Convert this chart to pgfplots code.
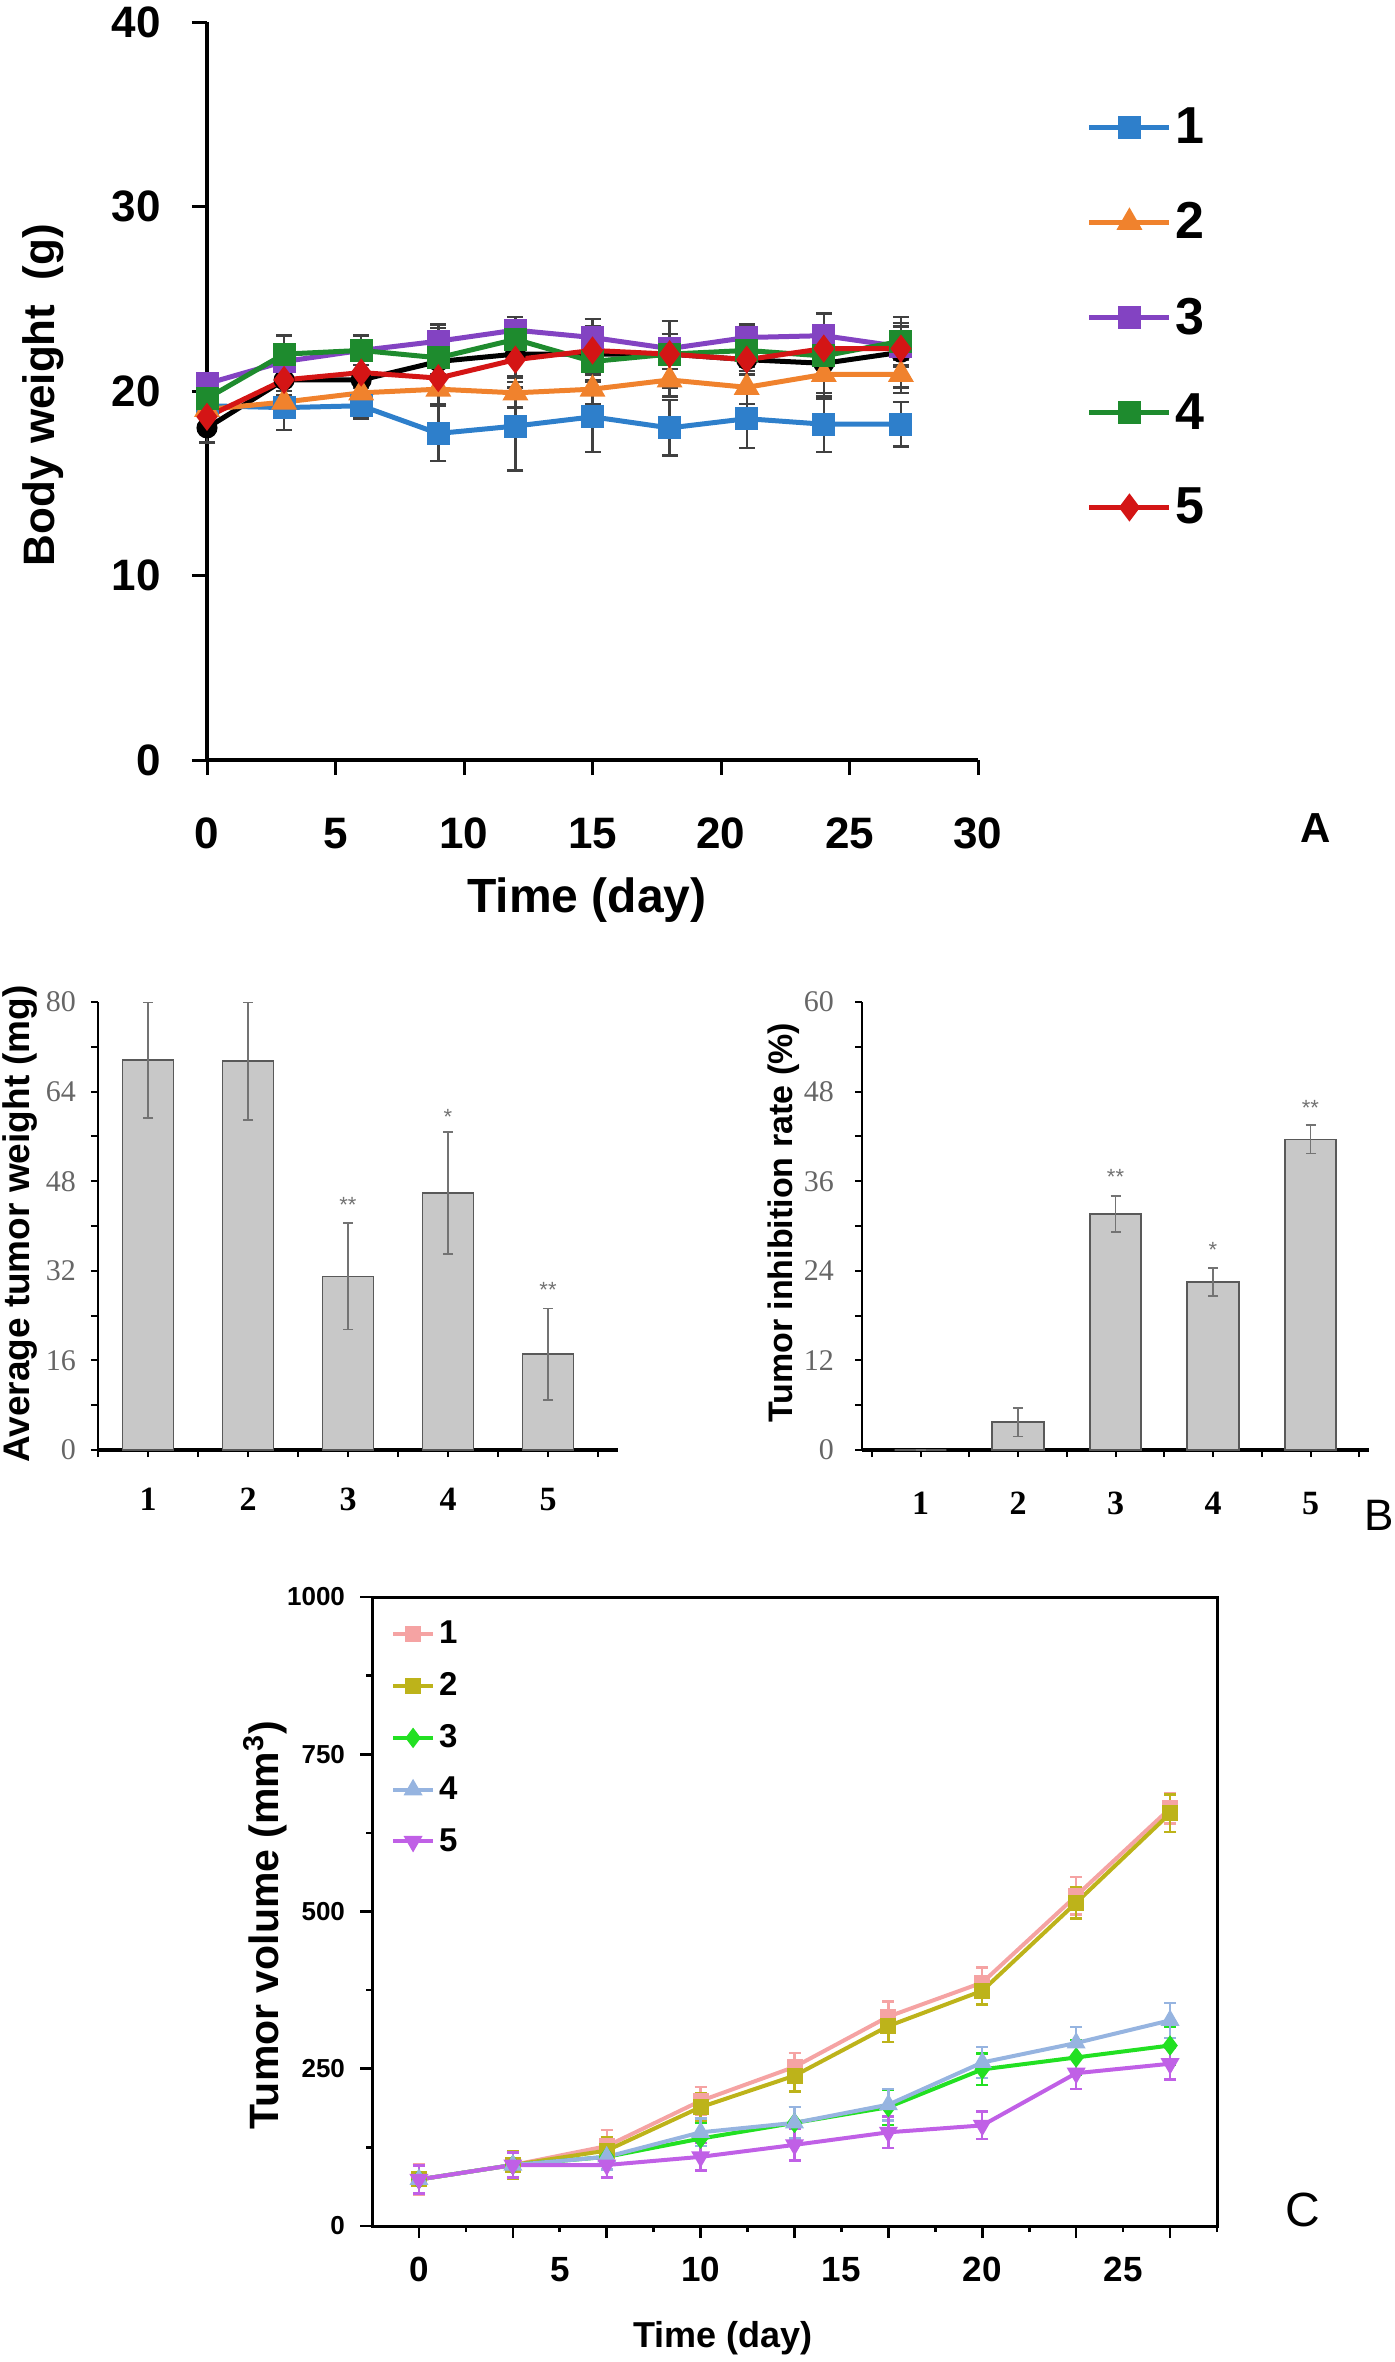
\documentclass[border=0pt]{standalone}
\usepackage{fontspec}
\setmainfont{Liberation Sans}
\newfontfamily\serif{Liberation Serif}
\usepackage{pgfplots}
\pgfplotsset{compat=1.18}
\definecolor{a1}{HTML}{2E7FCB}
\definecolor{a2}{HTML}{F0822D}
\definecolor{a3}{HTML}{8343C2}
\definecolor{a4}{HTML}{1E8B2E}
\definecolor{a5}{HTML}{D41515}
\definecolor{barfill}{HTML}{C8C8C8}
\definecolor{c1}{HTML}{F5A3A3}
\definecolor{c2}{HTML}{BDB31A}
\definecolor{c3}{HTML}{22E022}
\definecolor{c4}{HTML}{96B4E0}
\definecolor{c5}{HTML}{C060E6}
\pgfplotsset{/pgf/number format/assume math mode=true,/pgf/number format/1000 sep={}}
\newcommand\fs[1]{\fontsize{#1}{#1}\selectfont}
\begin{document}
\begin{tikzpicture}
\path[use as bounding box] (0,0) rectangle (697pt,-1181pt);
% ---------------- Panel A ----------------
\begin{axis}[at={(103.5pt,-380pt)}, anchor=south west, scale only axis,
  width=385.5pt, height=369pt, xmin=0, xmax=30, ymin=0, ymax=40,
  axis x line*=bottom, axis y line*=left, axis line style={line width=2pt,-},
  xtick={0,5,...,30}, ytick={0,10,...,40}, tick align=outside,
  major tick length=7.5pt, tick style={line width=1.5pt,black},
  ticklabel style={font=\bfseries\fs{22}},
  xticklabel style={yshift=-18pt}, yticklabel style={xshift=-12pt},
  clip=false,
  legend style={at={(1.133,0.895)}, anchor=north west, draw=none, fill=none,
    font=\bfseries\fs{26}, row sep=24pt, /tikz/every even column/.append style={column sep=17pt}},
  legend cell align=left,
  legend image code/.code={\draw[mark repeat=2,mark phase=2,#1] plot coordinates {(0pt,0pt)(20pt,0pt)(40pt,0pt)};},
  every axis plot/.append style={line width=2.5pt},
  error bars/error bar style={line width=1.2pt,black!75},
  error bars/error mark options={line width=1.2pt,black!75,mark size=4pt,rotate=90},
]
\addplot[black, mark=*, mark size=4pt, forget plot, error bars/.cd, y dir=both, y explicit]
 table[x=x,y=y,y error=e]{
x y e
0 18.0 0.8
3 20.6 0.9
6 20.6 0.8
9 21.6 1.8
12 22.0 1.8
15 22.0 1.5
18 22.0 1.8
21 21.7 1.8
24 21.5 1.9
27 22.1 1.9
};
\addplot[a1, mark=square*, mark size=4.5pt, error bars/.cd, y dir=both, y explicit]
 table[x=x,y=y,y error=e]{
x y e
0 19.2 0.6
3 19.1 1.2
6 19.2 0.7
9 17.7 1.5
12 18.1 2.4
15 18.6 1.9
18 18.0 1.5
21 18.5 1.6
24 18.2 1.5
27 18.2 1.2
};
\addlegendentry{1}
\addplot[a2, mark=triangle*, mark size=5pt, error bars/.cd, y dir=both, y explicit]
 table[x=x,y=y,y error=e]{
x y e
0 19.0 0.5
3 19.4 0.6
6 19.9 0.6
9 20.1 0.8
12 19.9 0.8
15 20.1 0.8
18 20.6 0.9
21 20.2 0.9
24 20.9 1.0
27 20.9 1.0
};
\addlegendentry{2}
\addplot[a3, mark=square*, mark size=4.5pt, error bars/.cd, y dir=both, y explicit]
 table[x=x,y=y,y error=e]{
x y e
0 20.4 0.5
3 21.6 0.9
6 22.2 0.8
9 22.7 0.9
12 23.3 0.7
15 22.9 1.0
18 22.3 0.8
21 22.9 0.7
24 23.0 1.2
27 22.4 1.1
};
\addlegendentry{3}
\addplot[a4, mark=square*, mark size=4.5pt, error bars/.cd, y dir=both, y explicit]
 table[x=x,y=y,y error=e]{
x y e
0 19.6 0.5
3 22.0 1.0
6 22.2 0.8
9 21.8 1.0
12 22.8 1.0
15 21.6 1.0
18 22.0 0.8
21 22.2 0.9
24 21.9 1.0
27 22.7 1.0
};
\addlegendentry{4}
\addplot[a5, mark=diamond*, mark size=5pt, error bars/.cd, y dir=both, y explicit]
 table[x=x,y=y,y error=e]{
x y e
0 18.6 0.5
3 20.6 0.8
6 21.0 0.8
9 20.7 0.9
12 21.7 0.9
15 22.2 0.9
18 22.0 0.8
21 21.7 0.8
24 22.3 0.9
27 22.3 0.9
};
\addlegendentry{5}
\end{axis}
\node[rotate=90,font=\bfseries\fs{22}] at (21.5pt,-197.5pt) {Body weight\ \ (g)};
\node[font=\bfseries\fs{24}] at (293.5pt,-450pt) {Time (day)};
\node[font=\bfseries\fs{21}] at (658pt,-414pt) {A};
% ---------------- Panel B left ----------------
\begin{axis}[at={(49pt,-725pt)}, anchor=south west, scale only axis,
  width=260pt, height=224pt, xmin=0.5, xmax=5.7, ymin=0, ymax=80,
  axis x line*=bottom, axis y line*=left,
  x axis line style={line width=2pt,-}, y axis line style={line width=1.2pt,-},
  xtick={1,...,5}, minor xtick={0.5,1.5,...,5.5}, ytick={0,16,...,80}, minor ytick={8,24,...,72},
  tick align=outside, major tick length=3.5pt, minor tick length=3.5pt,
  tick style={line width=1pt,black},
  yticklabel style={font=\serif\fs{15}, text=black!60, xshift=-4pt},
  xticklabel style={font=\serif\bfseries\fs{17}, yshift=-12pt},
  ybar, bar width=0.51, clip=false,
]
\addplot[fill=barfill, draw=black!65, line width=0.9pt,
  error bars/.cd, y dir=both, y explicit,
  error bar style={line width=0.8pt,black!55},
  error mark options={line width=0.8pt,black!55,mark size=2.5pt,rotate=90}]
 coordinates {(1,69.6) +- (0,10.3) (2,69.4) +- (0,10.5) (3,31.0) +- (0,9.5) (4,45.9) +- (0,10.9) (5,17.1) +- (0,8.2)};
\node[font=\fs{11}, text=black!55] at (axis cs:3,43.8) {**};
\node[font=\fs{11}, text=black!55] at (axis cs:4,59.5) {*};
\node[font=\fs{11}, text=black!55] at (axis cs:5,28.5) {**};
\end{axis}
\node[rotate=90,font=\bfseries\fs{18.5}] at (10pt,-612pt) {Average tumor weight (mg)};
% ---------------- Panel B right ----------------
\begin{axis}[at={(431pt,-725pt)}, anchor=south west, scale only axis,
  width=253.5pt, height=224pt, xmin=0.4, xmax=5.6, ymin=0, ymax=60,
  axis x line*=bottom, axis y line*=left,
  x axis line style={line width=2pt,-}, y axis line style={line width=1.2pt,-},
  xtick={1,...,5}, minor xtick={0.5,1.5,...,5.5}, ytick={0,12,...,60}, minor ytick={6,18,...,54},
  tick align=outside, major tick length=3.5pt, minor tick length=3.5pt,
  tick style={line width=1pt,black},
  yticklabel style={font=\serif\fs{15}, text=black!60, xshift=-7pt},
  xticklabel style={font=\serif\bfseries\fs{17}, yshift=-14pt},
  ybar, bar width=0.53, clip=false,
]
\addplot[fill=barfill, draw=black!65, line width=0.9pt,
  error bars/.cd, y dir=both, y explicit,
  error bar style={line width=0.8pt,black!55},
  error mark options={line width=0.8pt,black!55,mark size=2.5pt,rotate=90}]
 coordinates {(1,0) +- (0,0) (2,3.7) +- (0,1.9) (3,31.6) +- (0,2.4) (4,22.5) +- (0,1.9) (5,41.6) +- (0,1.9)};
\node[font=\fs{11}, text=black!55] at (axis cs:3,36.6) {**};
\node[font=\fs{11}, text=black!55] at (axis cs:4,26.8) {*};
\node[font=\fs{11}, text=black!55] at (axis cs:5,45.8) {**};
\end{axis}
\node[rotate=90,font=\bfseries\fs{17}] at (392pt,-611.5pt) {Tumor inhibition rate (\%)};
\node[font=\fs{22}, anchor=east, inner sep=0pt] at (697pt,-757.5pt) {B};
% ---------------- Panel C ----------------
\begin{axis}[at={(186pt,-1113pt)}, anchor=south west, scale only axis,
  width=422.5pt, height=314.5pt, xmin=-1.6667, xmax=28.3333, ymin=0, ymax=1000,
  axis line style={line width=1.5pt}, tick align=outside, xtick pos=bottom, ytick pos=left,
  xtick={0,3.3333,6.6667,10,13.3333,16.6667,20,23.3333,26.6667}, xticklabels={},
  minor xtick={1.6667,5,8.3333,11.6667,15,18.3333,21.6667,25,28.3333},
  extra x ticks={0,5,10,15,20,25}, extra x tick labels={0,5,10,15,20,25},
  extra x tick style={major tick length=0pt},
  ytick={0,250,...,1000}, minor ytick={125,375,625,875},
  major tick length=6pt, minor tick length=3pt, tick style={line width=1.3pt,black},
  xticklabel style={font=\bfseries\fs{17.5}, yshift=-12pt},
  yticklabel style={font=\bfseries\fs{13}, xshift=-4pt},
  legend style={at={(0.015,0.975)}, anchor=north west, draw=none, fill=none,
    font=\bfseries\fs{16.5}, row sep=9pt, /tikz/every even column/.append style={column sep=5pt}},
  legend cell align=left,
  legend image code/.code={\draw[mark repeat=2,mark phase=2,#1] plot coordinates {(0pt,0pt)(10pt,0pt)(20pt,0pt)};},
  every axis plot/.append style={line width=2pt},
]
\addplot[c1, mark=square*, mark size=3pt, error bars/.cd, y dir=both, y explicit,
  error bar style={line width=1.2pt}, error mark options={line width=1.2pt,mark size=3pt,rotate=90}]
 table[x=x,y=y,y error=e]{
x y e
0 74 24
3.3333 97 22
6.6667 127 26
10 199 22
13.3333 253 22
16.6667 333 24
20 387 24
23.3333 525 30
26.6667 664 24
};
\addlegendentry{1}
\addplot[c2, mark=square*, mark size=3pt, error bars/.cd, y dir=both, y explicit,
  error bar style={line width=1.2pt}, error mark options={line width=1.2pt,mark size=3pt,rotate=90}]
 table[x=x,y=y,y error=e]{
x y e
0 74 22
3.3333 97 22
6.6667 120 22
10 189 22
13.3333 239 25
16.6667 318 25
20 374 22
23.3333 514 25
26.6667 656 30
};
\addlegendentry{2}
\addplot[c3, mark=diamond*, mark size=3.5pt, error bars/.cd, y dir=both, y explicit,
  error bar style={line width=1.2pt}, error mark options={line width=1.2pt,mark size=3pt,rotate=90}]
 table[x=x,y=y,y error=e]{
x y e
0 74 22
3.3333 97 20
6.6667 110 20
10 139 25
13.3333 164 25
16.6667 189 28
20 249 25
23.3333 268 28
26.6667 287 30
};
\addlegendentry{3}
\addplot[c4, mark=triangle*, mark size=3.5pt, error bars/.cd, y dir=both, y explicit,
  error bar style={line width=1.2pt}, error mark options={line width=1.2pt,mark size=3pt,rotate=90}]
 table[x=x,y=y,y error=e]{
x y e
0 74 22
3.3333 97 20
6.6667 110 20
10 149 22
13.3333 164 25
16.6667 193 25
20 260 25
23.3333 291 25
26.6667 327 28
};
\addlegendentry{4}
\addplot[c5, mark=triangle*, mark options={rotate=180}, mark size=3.5pt, error bars/.cd, y dir=both, y explicit,
  error bar style={line width=1.2pt}, error mark options={line width=1.2pt,mark size=3pt,rotate=90}]
 table[x=x,y=y,y error=e]{
x y e
0 74 22
3.3333 97 20
6.6667 97 20
10 110 22
13.3333 129 25
16.6667 149 25
20 160 22
23.3333 243 25
26.6667 258 25
};
\addlegendentry{5}
\end{axis}
\node[rotate=90,font=\bfseries\fs{20.5}] at (132.5pt,-962.5pt) {Tumor volume (mm\textsuperscript{3})};
\node[font=\bfseries\fs{18}] at (361.5pt,-1169pt) {Time (day)};
\node[font=\fs{24}] at (651.5pt,-1105pt) {C};
\end{tikzpicture}
\end{document}
